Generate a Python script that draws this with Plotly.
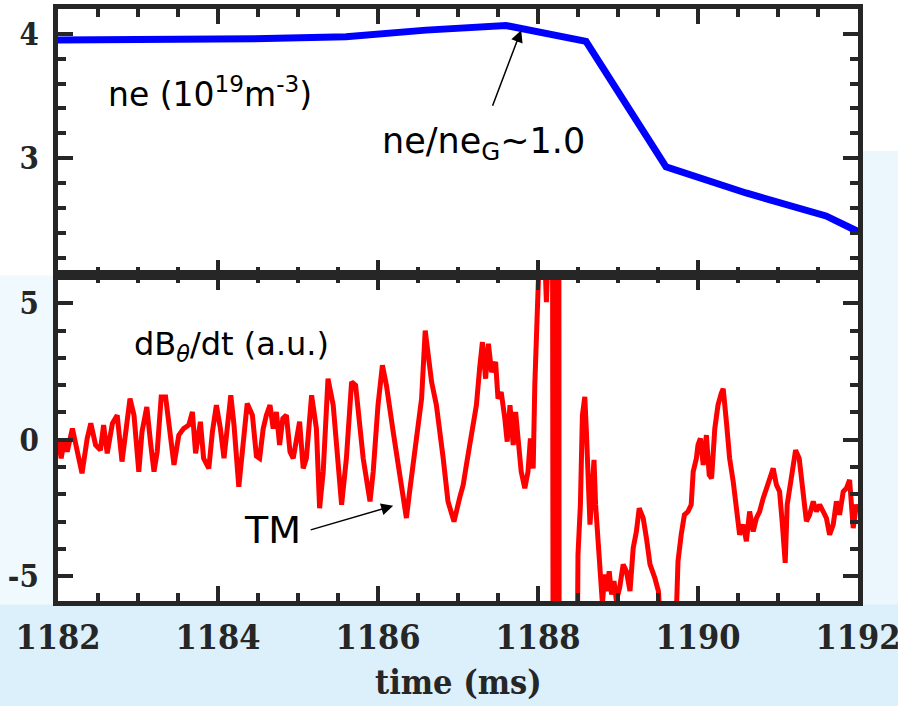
import plotly.graph_objects as go

# ---------------- data ----------------
ne_time = [1182.0, 1182.6, 1183.6, 1184.6, 1185.6, 1186.6, 1187.6, 1188.6,
           1189.6, 1190.6, 1191.6, 1192.0]
ne_vals = [3.95, 3.95, 3.954, 3.962, 3.976, 4.03, 4.067, 3.94,
           2.93, 2.72, 2.535, 2.41]

db_time = [
    1182.00, 1182.04, 1182.08, 1182.115, 1182.18, 1182.24, 1182.30, 1182.365,
    1182.41, 1182.47, 1182.53, 1182.57, 1182.615, 1182.68, 1182.74, 1182.80,
    1182.845, 1182.90, 1182.95, 1183.01, 1183.05, 1183.11, 1183.16, 1183.20,
    1183.24, 1183.29, 1183.345, 1183.385, 1183.45, 1183.51, 1183.57, 1183.635,
    1183.68, 1183.72, 1183.78, 1183.82, 1183.885, 1183.93, 1183.98, 1184.03,
    1184.075, 1184.16, 1184.20, 1184.26, 1184.30, 1184.365, 1184.43, 1184.48,
    1184.52, 1184.565, 1184.605, 1184.65, 1184.69, 1184.73, 1184.77, 1184.81,
    1184.855, 1184.90, 1184.94, 1184.98, 1185.02, 1185.065, 1185.105, 1185.17,
    1185.23, 1185.27, 1185.315, 1185.375, 1185.44, 1185.545, 1185.605, 1185.67,
    1185.72, 1185.815, 1185.90, 1185.94, 1186.00, 1186.055, 1186.105, 1186.19,
    1186.27, 1186.355, 1186.395, 1186.48, 1186.545, 1186.59, 1186.625, 1186.67,
    1186.73, 1186.77, 1186.815, 1186.875, 1186.95, 1187.02, 1187.065, 1187.105,
    1187.15, 1187.19, 1187.23, 1187.27, 1187.305, 1187.345, 1187.38, 1187.42,
    1187.47, 1187.50, 1187.54, 1187.585, 1187.615, 1187.65, 1187.69, 1187.72,
    1187.765, 1187.79, 1187.835, 1187.875, 1187.905, 1187.94, 1187.96, 1187.98,
    1188.00, 1188.03, 1188.07, 1188.105, 1188.14, 1188.18, 1188.19, 1188.20,
    1188.21, 1188.22, 1188.23, 1188.24, 1188.25, 1188.26, 1188.265, 1188.40,
    1188.49, 1188.50, 1188.53, 1188.555, 1188.585, 1188.605, 1188.625, 1188.65,
    1188.67, 1188.70, 1188.72, 1188.75, 1188.78, 1188.805, 1188.835, 1188.855,
    1188.89, 1188.92, 1188.95, 1188.98, 1189.02, 1189.065, 1189.105, 1189.15,
    1189.19, 1189.23, 1189.265, 1189.315, 1189.355, 1189.40, 1189.46, 1189.505,
    1189.53, 1189.62, 1189.73, 1189.75, 1189.79, 1189.83, 1189.875, 1189.915,
    1189.94, 1189.98, 1190.00, 1190.03, 1190.065, 1190.105, 1190.14, 1190.17,
    1190.21, 1190.25, 1190.29, 1190.315, 1190.355, 1190.395, 1190.44, 1190.48,
    1190.52, 1190.565, 1190.605, 1190.645, 1190.69, 1190.73, 1190.77, 1190.815,
    1190.875, 1190.94, 1190.98, 1191.02, 1191.055, 1191.09, 1191.115, 1191.145,
    1191.19, 1191.22, 1191.265, 1191.305, 1191.355, 1191.395, 1191.44, 1191.48,
    1191.52, 1191.565, 1191.605, 1191.645, 1191.69, 1191.73, 1191.77, 1191.815,
    1191.855, 1191.895, 1191.94, 1191.98, 1192.00,
]
db_vals = [
    0.05, -0.68, 0.05, -0.44, 0.41, -0.44, -1.23, 0.05,
    0.60, -0.19, -0.38, 0.54, -0.50, 0.60, 0.90, -0.80,
    0.41, 1.51, 0.90, -1.17, 0.29, 1.20, -0.19, -1.17,
    -0.44, 1.57, 1.57, 0.54, -0.92, 0.17, 0.41, 0.54,
    1.02, -0.50, 0.66, -0.68, -1.05, 0.29, 1.27, 0.41,
    -0.68, 1.63, 0.54, -1.72, -0.44, 1.33, 0.90, -0.60,
    -0.68, 0.41, 0.90, 1.27, 0.41, 1.02, -0.19, 0.78,
    0.90, -0.44, -0.68, 0.05, 0.66, -1.05, -0.68, 1.63,
    0.41, -2.51, -1.17, 2.24, 1.27, -2.38, -0.68, 2.12,
    2.00, -0.68, -2.26, -1.17, 1.27, 2.73, 2.00, 0.29,
    -1.17, -2.87, -1.90, 0.05, 1.51, 4.00, 3.09, 2.12,
    1.27, 0.17, -0.68, -2.26, -3.00, -2.14, -1.65, -0.92,
    -0.07, 0.66, 1.27, 2.60, 3.58, 2.24, 3.52, 2.48,
    2.85, 1.51, 1.75, 0.78, -0.07, 1.27, -0.19, 1.02,
    -0.68, -1.17, -1.78, -1.17, 0.05, -1.05, 2.00, 4.06,
    5.64, 8.0, 8.0, 5.04, 8.0, 12.0, -12.0, 12.0,
    -12.0, 12.0, -12.0, 12.0, -12.0, 12.0, -12.0, -9.0,
    -8.0, -4.2, -2.38, 0.90, 1.57, 0.29, -1.17, -3.11,
    -2.14, -0.74, -2.38, -3.97, -5.43, -6.0, -4.94, -5.55,
    -4.82, -5.67, -5.18, -5.9, -5.43, -4.57, -4.82, -5.55,
    -3.97, -3.36, -2.51, -2.87, -3.60, -4.57, -5.06, -5.55,
    -6.8, -7.5, -6.3, -4.45, -3.48, -2.75, -2.63, -2.38,
    -1.17, -0.68, -0.19, 0.05, -0.92, 0.17, -1.29, -1.41,
    0.41, 1.27, 1.69, 1.87, 0.66, -0.68, -1.53, -2.38,
    -3.48, -3.11, -3.72, -2.63, -3.36, -2.87, -2.63, -2.14,
    -1.65, -1.05, -1.65, -1.90, -3.11, -4.51, -2.38, -1.78,
    -1.05, -0.38, -0.68, -1.90, -2.99, -2.75, -2.26, -2.63,
    -2.38, -2.63, -2.87, -3.48, -3.11, -2.26, -2.75, -1.90,
    -1.78, -1.47, -3.24, -2.38, -2.6,
]

x_range = [1182, 1192]
ne_range = [2.06, 4.20]
db_range = [-5.91, 6.04]
x_ticks = [1182, 1184, 1186, 1188, 1190, 1192]
x_ticktext = ["1182", "1184", "1186", "1188", "1190", "1192"]
ne_ticks = [3, 4]
ne_ticktext = ["3", "4"]
db_ticks = [-5, 0, 5]
db_ticktext = ["-5", "0", "5"]

AX = "#262626"
SERIF = "DejaVu Serif Condensed, DejaVu Serif, Liberation Serif, serif"
tick_font = dict(family=SERIF, size=31, color=AX, weight="bold")
txt_font = "DejaVu Sans, Liberation Sans, Arial, sans-serif"

fig = go.Figure()
fig.add_trace(go.Scatter(x=ne_time, y=ne_vals, mode="lines", xaxis="x2", yaxis="y2",
                         line=dict(color="#0000ff", width=7), showlegend=False,
                         hoverinfo="skip"))
fig.add_trace(go.Scatter(x=db_time, y=db_vals, mode="lines", xaxis="x", yaxis="y",
                         line=dict(color="#ff0000", width=5), showlegend=False,
                         hoverinfo="skip"))

split = 326 / 592

common_axis = dict(showline=True, linewidth=5, linecolor=AX, mirror="ticks",
                   ticks="inside", ticklen=15, tickwidth=4, tickcolor=AX,
                   showgrid=False, zeroline=False, automargin=False,
                   ticklabeloverflow="allow")

fig.update_layout(
    width=898, height=706,
    margin=dict(l=58, r=40, t=9, b=105),
    paper_bgcolor="white", plot_bgcolor="white",
    xaxis=dict(**common_axis, domain=[0, 1], anchor="y", range=x_range,
               tickmode="array", tickvals=x_ticks, ticktext=x_ticktext,
               minor=dict(ticks="inside", ticklen=8, tickwidth=4, tickcolor=AX,
                          tickmode="linear", tick0=1182, dtick=0.5),
               tickfont=dict(tick_font, size=34), ticklabelstandoff=2),
    yaxis=dict(**common_axis, domain=[0, split], anchor="x", range=db_range,
               tickmode="array", tickvals=db_ticks, ticktext=db_ticktext,
               minor=dict(ticks="inside", ticklen=8, tickwidth=4, tickcolor=AX,
                          tickmode="linear", tick0=0, dtick=1),
               tickfont=tick_font, ticklabelstandoff=8),
    xaxis2=dict(**common_axis, domain=[0, 1], anchor="y2", range=x_range, matches="x",
                tickmode="array", tickvals=x_ticks, showticklabels=False,
                minor=dict(ticks="inside", ticklen=8, tickwidth=4, tickcolor=AX,
                           tickmode="linear", tick0=1182, dtick=0.5)),
    yaxis2=dict(**common_axis, domain=[split, 1], anchor="x2", range=ne_range,
                tickmode="array", tickvals=ne_ticks, ticktext=ne_ticktext,
                minor=dict(ticks="inside", ticklen=8, tickwidth=4, tickcolor=AX,
                           tickmode="linear", tick0=0, dtick=0.2),
                tickfont=tick_font, ticklabelstandoff=8),
)

# light-blue slide background around the axes
bg = [
    dict(x0=-0.0725, x1=1.05, y0=-0.18, y1=-0.006, fillcolor="rgba(195,230,246,0.6)"),
    dict(x0=-0.0725, x1=-0.004, y0=-0.006, y1=0.55, fillcolor="rgba(205,234,248,0.3)"),
    dict(x0=1.004, x1=1.05, y0=-0.006, y1=0.76, fillcolor="rgba(205,234,248,0.4)"),
]
for b in bg:
    fig.add_shape(type="rect", xref="paper", yref="paper", layer="below",
                  line=dict(width=0), **b)

# x-axis title
fig.add_annotation(x=0.5, y=-0.137, xref="paper", yref="paper", xanchor="center",
                   yanchor="middle", text="time (ms)", showarrow=False,
                   font=dict(family=SERIF, size=34, color=AX, weight="bold"))

# text labels
fig.add_annotation(x=1182.6, y=3.53, xref="x2", yref="y2", xanchor="left", yanchor="middle",
                   text="ne (10<sup>19</sup>m<sup>-3</sup>)", showarrow=False,
                   font=dict(family=txt_font, size=33, color="black"))
fig.add_annotation(x=1186.02, y=3.12, xref="x2", yref="y2", xanchor="left", yanchor="middle",
                   text="ne/ne<sub>G</sub>~1.0", showarrow=False,
                   font=dict(family=txt_font, size=35, color="black"))
fig.add_annotation(x=1182.93, y=3.45, xref="x", yref="y", xanchor="left", yanchor="middle",
                   text="dB<sub><i>θ</i></sub>/dt (a.u.)", showarrow=False,
                   font=dict(family=txt_font, size=32, color="black"))
fig.add_annotation(x=1184.3, y=-3.3, xref="x", yref="y", xanchor="left", yanchor="middle",
                   text="TM", showarrow=False,
                   font=dict(family=txt_font, size=38, color="black"))

# arrows
fig.add_annotation(x=1187.79, y=4.03, xref="x2", yref="y2", axref="x2", ayref="y2",
                   ax=1187.425, ay=3.41, text="", showarrow=True, arrowhead=2,
                   arrowsize=1.6, arrowwidth=1.5, arrowcolor="black")
fig.add_annotation(x=1186.19, y=-2.42, xref="x", yref="y", axref="x", ayref="y",
                   ax=1185.14, ay=-3.32, text="", showarrow=True, arrowhead=2,
                   arrowsize=1.6, arrowwidth=1.5, arrowcolor="black")

fig.write_html("out.html", config={"displayModeBar": False},
               post_script="document.body.style.margin='0';")
